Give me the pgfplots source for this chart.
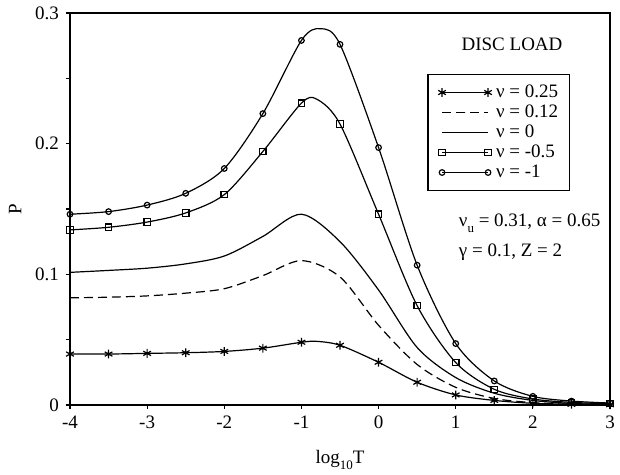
\documentclass[border=0pt]{standalone}
\usepackage{fontspec}
\setmainfont{Liberation Serif}
\usepackage{pgfplots}
\pgfplotsset{compat=1.18}

\newcommand{\sub}[1]{\raisebox{-0.7ex}{\fontsize{6.5}{7}\selectfont #1}}

\begin{document}
\begin{tikzpicture}[font=\fontsize{9.5}{11}\selectfont]
\begin{axis}[
    scale only axis,
    width=270pt, height=196pt,
    xmin=-4, xmax=3, ymin=0, ymax=0.3,
    xtick={-4,-3,...,3},
    ytick={0,0.1,0.2,0.3},
    minor y tick num=1,
    xtick pos=bottom, ytick pos=left,
    tick align=outside,
    major tick length=2pt, minor tick length=2pt,
    tick style={black, line width=0.6pt},
    axis line style={line width=0.9pt},
    /pgf/number format/assume math mode=true,
    yticklabel style={/pgf/number format/fixed},
    xlabel={log\sub{10}T},
    xlabel style={yshift=-4pt},
    ylabel={P},
    legend cell align=left,
    legend image code/.code={\draw[#1] plot coordinates {(0pt,0pt) (23pt,0pt)};},
    legend style={at={(rel axis cs:0.662,0.845)}, anchor=north west,
        draw=black, line width=0.75pt, inner xsep=5pt, inner ysep=4pt,
        row sep=0pt, column sep=1.5pt,
        nodes={inner sep=0.6pt, text height=6.8pt, text depth=2pt}},
    every axis plot/.append style={black, line width=0.6pt, smooth},
]
\coordinate (sw) at (rel axis cs:0,0);
\coordinate (ne) at (rel axis cs:1,1);

% nu = 0.25
\addplot[mark=asterisk, mark size=2.2pt,
    mark indices={1,2,3,4,5,6,7,9,10,11,12,13,14,15,16}] table {
x     y
-4    0.0390
-3.5  0.0390
-3    0.0395
-2.5  0.0400
-2    0.0410
-1.5  0.0435
-1    0.0480
-0.8  0.0487
-0.5  0.0457
0     0.0327
0.5   0.0174
1     0.0077
1.5   0.0035
2     0.0013
2.5   0.0005
3     0.0002
};
\addlegendentry{ν = 0.25}

% nu = 0.12
\addplot[no marks, dash pattern=on 4.5pt off 2.5pt] table {
x     y
-4    0.0820
-3.5  0.0825
-3    0.0835
-2.5  0.0856
-2    0.0890
-1.5  0.0990
-1    0.1105
-0.5  0.0980
0     0.0610
0.5   0.0310
1     0.0135
1.5   0.0050
2     0.0018
2.5   0.0006
3     0.0002
};
\addlegendentry{ν = 0.12}

% nu = 0
\addplot[no marks, solid] table {
x     y
-4    0.1015
-3.5  0.1030
-3    0.1047
-2.5  0.1080
-2    0.1140
-1.5  0.1290
-1    0.1460
-0.5  0.1250
0     0.0880
0.5   0.0440
1     0.0210
1.5   0.0090
2     0.0035
2.5   0.0012
3     0.0004
};
\addlegendentry{ν = 0}

% nu = -0.5
\addplot[mark=square, mark size=1.6pt, mark options={fill=white, solid},
    mark indices={1,2,3,4,5,6,7,9,10,11,12,13,14,15,16}] table {
x     y
-4    0.1340
-3.5  0.1360
-3    0.1400
-2.5  0.1470
-2    0.1610
-1.5  0.1940
-1    0.2310
-0.8  0.2340
-0.5  0.2150
0     0.1460
0.5   0.0760
1     0.0325
1.5   0.0120
2     0.0046
2.5   0.0020
3     0.0010
};
\addlegendentry{ν = -0.5}

% nu = -1
\addplot[mark=o, mark size=1.4pt, mark options={fill=white, solid},
    mark indices={1,2,3,4,5,6,7,9,10,11,12,13,14,15,16}] table {
x     y
-4    0.1460
-3.5  0.1480
-3    0.1530
-2.5  0.1620
-2    0.1810
-1.5  0.2230
-1    0.2790
-0.75 0.2880
-0.5  0.2760
0     0.1970
0.5   0.1070
1     0.0470
1.5   0.0184
2     0.0066
2.5   0.0030
3     0.0015
};
\addlegendentry{ν = -1}

\node at (axis cs:1.73,0.276) {DISC LOAD};
\node[anchor=west] at (axis cs:0.95,0.139) {ν\sub{u} = 0.31, α = 0.65};
\node[anchor=west] at (axis cs:0.95,0.117) {γ = 0.1, Z = 2};
\end{axis}
\pgfresetboundingbox
\path[use as bounding box] ([shift={(-35pt,-35pt)}]sw) rectangle ([shift={(5pt,6.5pt)}]ne);
\end{tikzpicture}
\end{document}
